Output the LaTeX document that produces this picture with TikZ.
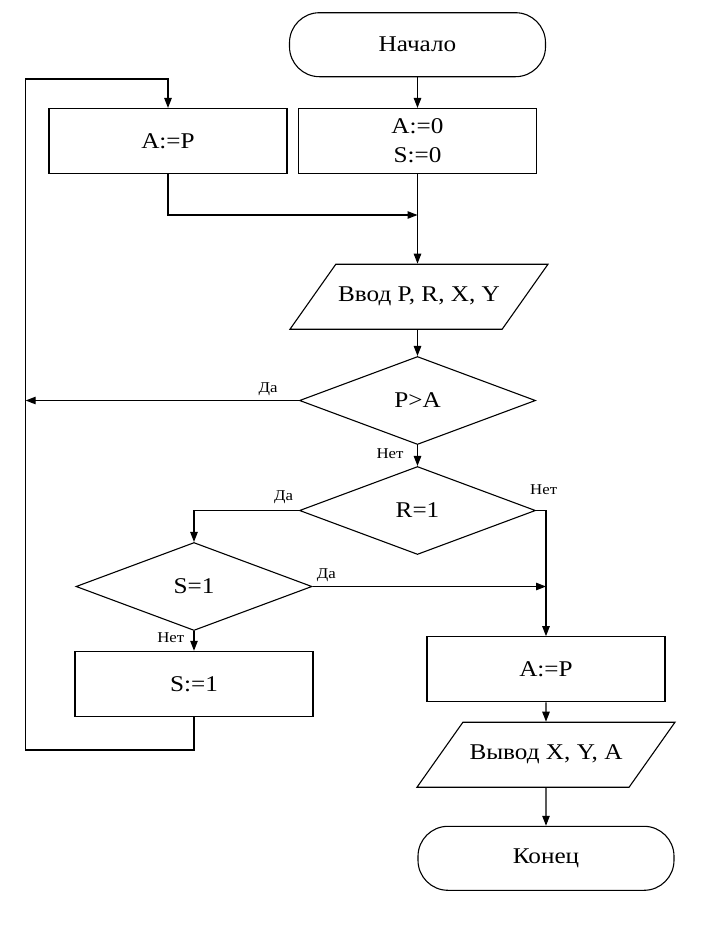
\documentclass[tikz,border=0pt]{standalone}
\usepackage{fontspec}
\setmainfont{Liberation Serif}[FakeStretch=1.12]
\usetikzlibrary{shapes.geometric,arrows.meta}
\begin{document}
\begin{tikzpicture}[x=1pt,y=-1pt,
  line width=1.1pt,
  >={Triangle[length=10pt,width=7.5pt]},
  base/.style={draw, inner sep=0pt, font=\fontsize{22.5}{29}\selectfont, align=center},
  term/.style={base, rectangle, rounded corners=30pt, minimum width=256pt, minimum height=64pt},
  proc/.style={base, rectangle, minimum width=238pt, minimum height=65pt},
  io/.style={base, trapezium, trapezium left angle=54, trapezium right angle=126, trapezium stretches body=true, inner xsep=0pt, inner ysep=22pt, minimum width=258pt, minimum height=65pt},
  dec/.style={base, diamond, minimum width=236pt, minimum height=88pt},
  lbl/.style={font=\fontsize{15}{17}\selectfont, inner sep=0pt}
]
\useasboundingbox[fill=white] (0,0) rectangle (709,932);

\node[term] (start) at (417.5,44.7) {Начало};
\node[proc] (ap1) at (168,141) {A:=P};
\node[proc] (init) at (417.5,141) {A:=0\\S:=0};
\node[io] (in) at (419,296.7) {Ввод P, R, X, Y};
\node[dec] (d1) at (417.5,400.5) {P>A};
\node[dec] (d2) at (417.5,510.5) {R=1};
\node[dec] (d3) at (194,586.5) {S=1};
\node[proc] (s1) at (194,683.8) {S:=1};
\node[proc] (ap2) at (546,669.2) {A:=P};
\node[io] (out) at (546,754.7) {Вывод X, Y, A};
\node[term] (end) at (546,858.3) {Конец};

\coordinate (lt) at (25.7,79);
\coordinate (lb) at (25.7,750);
\coordinate (merge) at (417.5,215);
\coordinate (lmid) at (lt |- d1.west);

\draw[->] (start.south) -- (init.north);
\draw[->] (init.south) -- (init.south |- in.north);
\draw[->] (ap1.south) |- (merge);
\draw[->] (init.south |- in.south) -- (d1.north);
\draw[->] (d1.west) -- (lmid);
\draw[->] (s1.south) |- (lb) -- (lt) -| (ap1.north);
\draw[->] (d1.south) -- (d2.north);
\draw[->] (d2.west) -| (d3.north);
\draw[->] (d2.east) -| (ap2.north);
\draw[->] (d3.east) -- (d3.east -| ap2.north);
\draw[->] (d3.south) -- (s1.north);
\draw[->] (ap2.south) -- (out.north);
\draw[->] (out.south) -- (end.north);

\node[lbl] (l1) at (268,389) {Да};
\node[lbl] (l2) at (390,453.3) {Нет};
\node[lbl] (l3) at (283.7,497.3) {Да};
\node[lbl] (l4) at (543.7,489.3) {Нет};
\node[lbl] (l5) at (326.3,575) {Да};
\node[lbl] (l6) at (170.8,637.3) {Нет};
\end{tikzpicture}
\end{document}
